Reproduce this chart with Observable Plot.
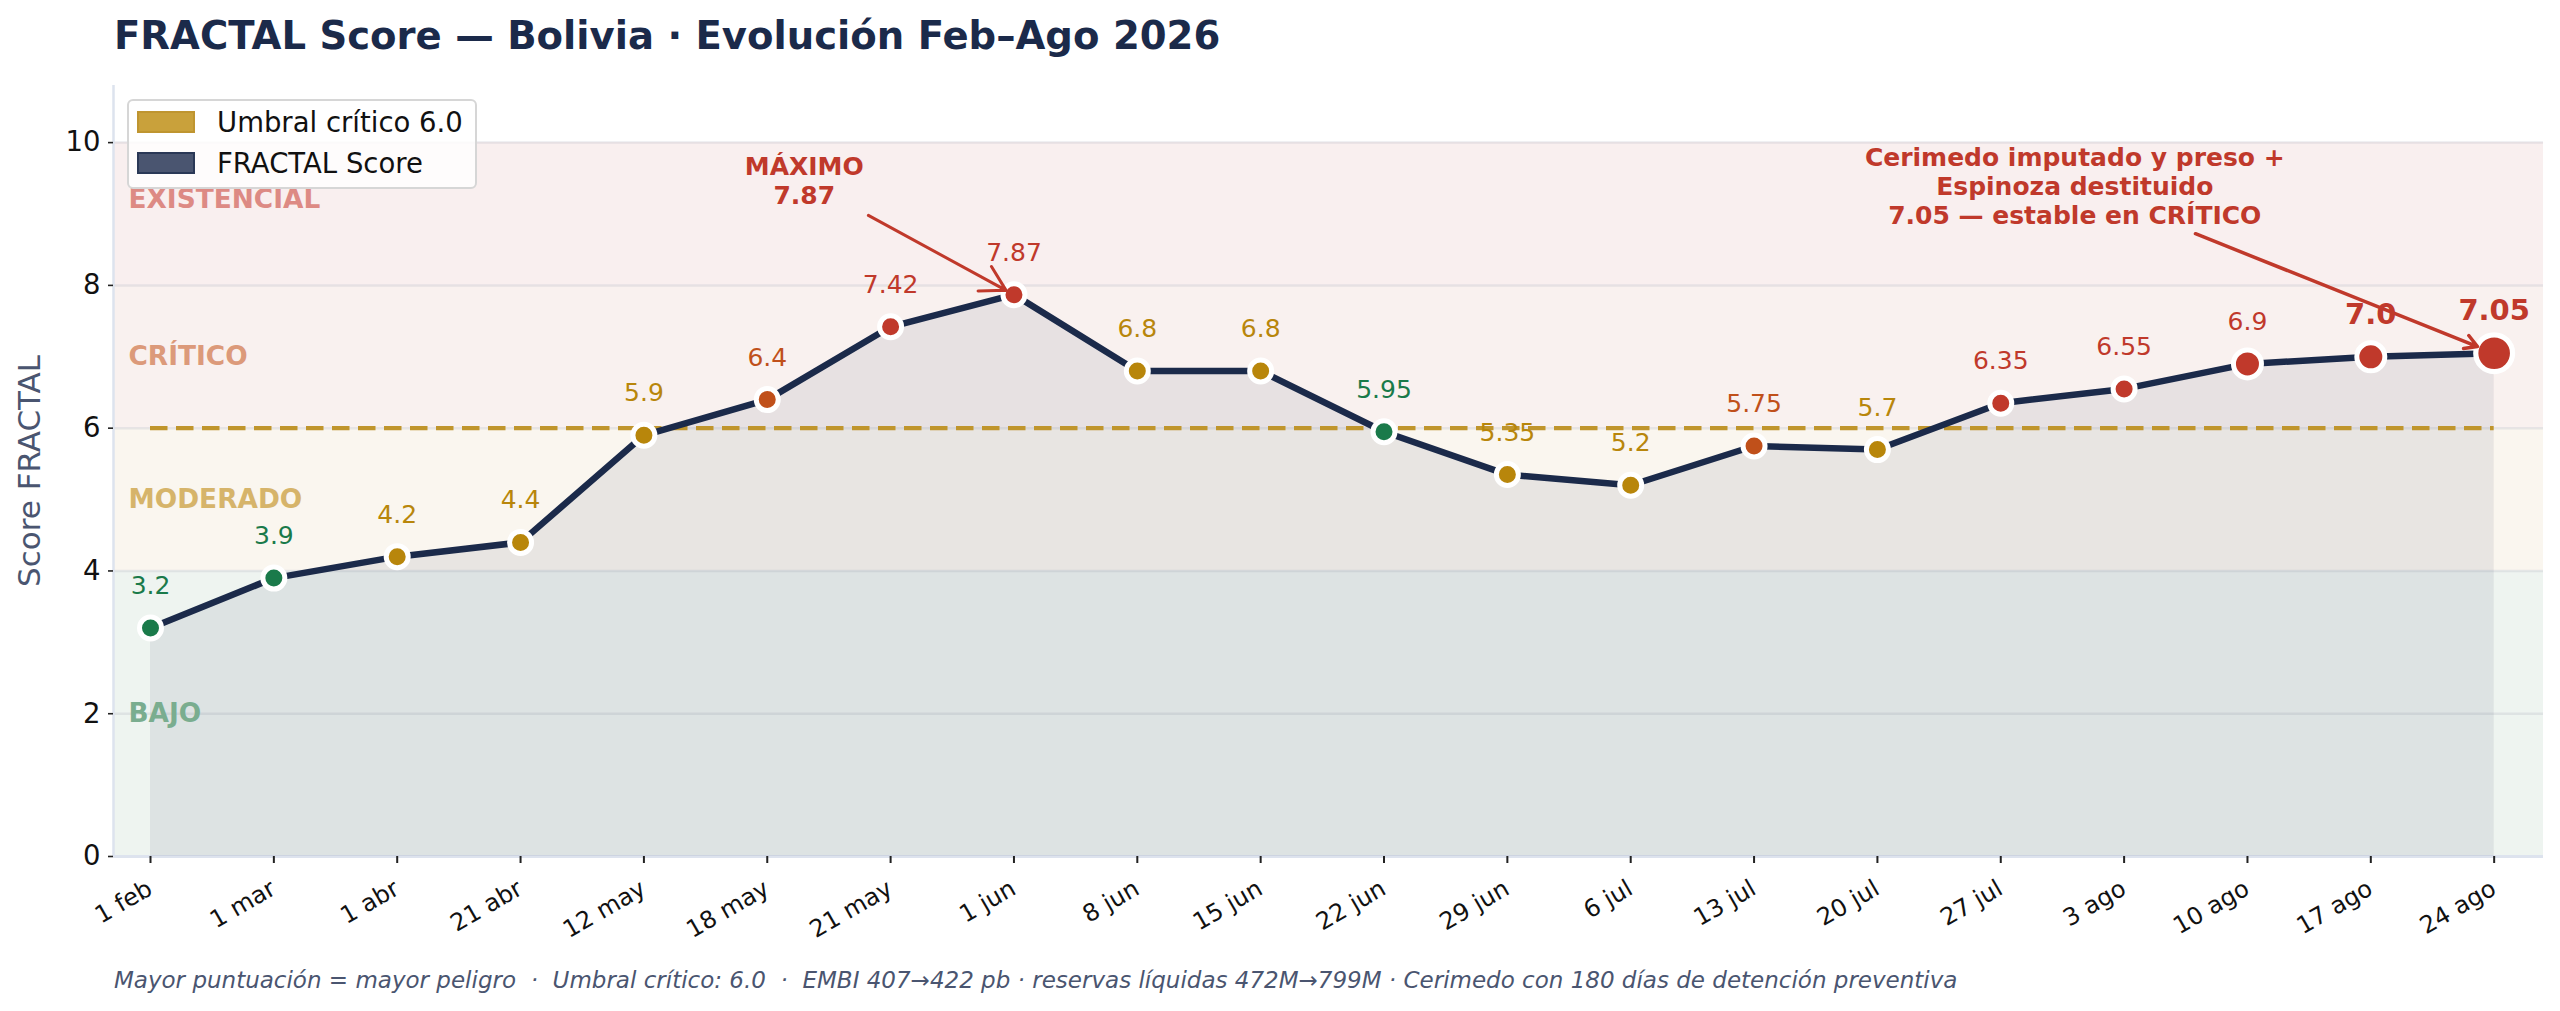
<!DOCTYPE html>
<html><head><meta charset="utf-8">
<script src="https://cdn.jsdelivr.net/npm/d3@7"></script>
<script src="https://cdn.jsdelivr.net/npm/@observablehq/plot@0.6"></script>
<style>
html,body{margin:0;padding:0;background:#fff;}
#wrap{position:relative;width:2560px;height:1011px;font-family:"DejaVu Sans",sans-serif;overflow:hidden;}
#chart{position:absolute;left:0;top:0;}
#title{position:absolute;left:114px;top:16px;font-size:38.6px;line-height:40px;font-weight:bold;color:#1b2a4a;white-space:nowrap;}
#caption{position:absolute;left:114px;top:969px;font-size:23px;line-height:23px;font-style:italic;color:#4a5570;white-space:pre;}
#legend{position:absolute;left:127px;top:99px;width:350px;height:90px;box-sizing:border-box;border:2px solid #d6d6d6;border-radius:6px;background:rgba(255,255,255,0.82);}
.sw{position:absolute;left:8px;width:58px;height:22px;box-sizing:border-box;border:2px solid;}
.lt{position:absolute;left:88px;font-size:27.5px;line-height:27.5px;color:#111;white-space:nowrap;}
</style></head><body>
<div id="wrap">
  <div id="chart"></div>
  <div id="title">FRACTAL Score — Bolivia · Evolución Feb–Ago 2026</div>
  <div id="legend">
    <div class="sw" style="top:10px;background:#c9a13b;border-color:#bf9530;"></div>
    <div class="lt" style="top:8px;">Umbral crítico 6.0</div>
    <div class="sw" style="top:51px;background:#4a5570;border-color:#2a3856;"></div>
    <div class="lt" style="top:49px;">FRACTAL Score</div>
  </div>
  <div id="caption">Mayor puntuación = mayor peligro  ·  Umbral crítico: 6.0  ·  EMBI 407→422 pb · reservas líquidas 472M→799M · Cerimedo con 180 días de detención preventiva</div>
</div>
<script>
// ---- data ----
const xLabels = ["1 feb","1 mar","1 abr","21 abr","12 may","18 may","21 may","1 jun","8 jun","15 jun","22 jun","29 jun","6 jul","13 jul","20 jul","27 jul","3 ago","10 ago","17 ago","24 ago"];
const scores = [3.2,3.9,4.2,4.4,5.9,6.4,7.42,7.87,6.8,6.8,5.95,5.35,5.2,5.75,5.7,6.35,6.55,6.9,7.0,7.05];
const levels = ["verde","verde","ambar","ambar","ambar","naranja","rojo","rojo","ambar","ambar","verde","ambar","ambar","naranja","ambar","rojo","rojo","rojo","rojo","rojo"];
const emphasis = [0,0,0,0,0,0,0,0,0,0,0,0,0,0,0,0,0,1,2,3];
const zoneNames = ["BAJO","MODERADO","CRÍTICO","EXISTENCIAL"];
const zoneLow = [0,4,6,8];
const zoneHigh = [4,6,8,10];
const zoneLabelY = [2,5,7,9.2];
const yTicks = [0,2,4,6,8,10];
const threshold = 6.0;

// ---- styling ----
const levelColor = {verde:"#1a7a4a", ambar:"#b8860b", naranja:"#c0501a", rojo:"#c0392b"};
const zoneFill = ["#eef4f0","#faf6ef","#f9f1ef","#f9efef"];
const zoneText = ["#7aad8f","#d6b46a","#dc9a7a","#dd8a84"];
const navy = "#1b2a4a";
const red = "#c0392b";

const fmt = v => Number.isInteger(v) ? v.toFixed(1) : String(v);
const data = scores.map((v,i) => ({i, v, label: fmt(v), tick: xLabels[i], color: levelColor[levels[i]], e: emphasis[i]}));
const zones = zoneNames.map((n,k) => ({n, lo: zoneLow[k], hi: zoneHigh[k], ly: zoneLabelY[k], fill: zoneFill[k], tc: zoneText[k]}));
const last = scores.length - 1;
const peak = scores.indexOf(d3.max(scores));
const ann1 = [{x: 5.3, y: 9.47, text: "MÁXIMO\n" + fmt(scores[peak]), tx: peak, ty: scores[peak]}];
const ann2 = [{x: 15.6, y: 9.40, text: "Cerimedo imputado y preso +\nEspinoza destituido\n" + fmt(scores[last]) + " — estable en CRÍTICO", tx: last, ty: scores[last]}];

const chart = Plot.plot({
  width: 2560, height: 1011,
  marginLeft: 113, marginRight: 17, marginTop: 85, marginBottom: 155,
  style: {fontFamily: "DejaVu Sans", background: "transparent", overflow: "visible"},
  x: {type: "linear", domain: [-0.3, 19.4]},
  y: {domain: [0, 10.8]},
  color: {type: "identity"},
  marks: [
    Plot.rect(zones, {y1: "lo", y2: "hi", fill: "fill"}),
    Plot.ruleY(yTicks, {stroke: "#b8bcc6", strokeOpacity: 0.3, strokeWidth: 2.5}),
    Plot.ruleX([-0.3], {stroke: "#dde3ee", strokeWidth: 2.5}),
    Plot.ruleY([0], {stroke: "#dde3ee", strokeWidth: 3}),
    Plot.areaY(data, {x: "i", y: "v", fill: navy, fillOpacity: 0.08}),
    Plot.ruleY([threshold], {x1: 0, x2: last, stroke: "#c0952c", strokeWidth: 4.3, strokeDasharray: "17.5,8.5"}),
    Plot.line(data, {x: "i", y: "v", stroke: navy, strokeWidth: 6.5, strokeLinejoin: "round"}),
    Plot.dot(data.filter(d => d.e === 0), {x: "i", y: "v", r: 11, fill: "color", stroke: "white", strokeWidth: 5}),
    Plot.dot(data.filter(d => d.e === 1 || d.e === 2), {x: "i", y: "v", r: 14, fill: "color", stroke: "white", strokeWidth: 5}),
    Plot.dot(data.filter(d => d.e === 3), {x: "i", y: "v", r: 18.4, fill: "color", stroke: "white", strokeWidth: 5.2}),
    Plot.text(data.filter(d => d.e < 2), {x: "i", y: "v", text: "label", fill: "color", fontSize: 25, lineAnchor: "bottom", dy: -34}),
    Plot.text(data.filter(d => d.e >= 2), {x: "i", y: "v", text: "label", fill: "color", fontSize: 29, fontWeight: "bold", lineAnchor: "bottom", dy: -33}),
    Plot.arrow(ann1, {x1: "x", y1: "y", x2: "tx", y2: "ty", insetStart: 73, insetEnd: 9, stroke: red, strokeWidth: 3, headLength: 14, bend: 0}),
    Plot.arrow(ann2, {x1: "x", y1: "y", x2: "tx", y2: "ty", insetStart: 130, insetEnd: 18, stroke: red, strokeWidth: 3.5, headLength: 6, bend: 0}),
    Plot.text(ann1, {x: "x", y: "y", text: "text", fill: red, fontSize: 25, fontWeight: "bold", lineAnchor: "middle", lineHeight: 1.16}),
    Plot.text(ann2, {x: "x", y: "y", text: "text", fill: red, fontSize: 25, fontWeight: "bold", lineAnchor: "middle", lineHeight: 1.16}),
    Plot.text(zones, {y: "ly", frameAnchor: "left", dx: 15, textAnchor: "start", lineAnchor: "middle", text: "n", fill: "tc", fontSize: 26.4, fontWeight: "bold"}),
    Plot.axisY({ticks: yTicks, tickSize: 5, tickPadding: 8, fontSize: 27.5, stroke: "#222", strokeWidth: 1.6, label: null, color: "#111"}),
    Plot.axisX({ticks: d3.range(xLabels.length), tickFormat: () => "", tickSize: 7, stroke: "#222", strokeWidth: 2, label: null}),
    Plot.text(data, {x: "i", text: "tick", frameAnchor: "bottom", dx: -5, dy: 22, rotate: -30, textAnchor: "end", lineAnchor: "top", fontSize: 24, fill: "#111"}),
    Plot.text(["Score FRACTAL"], {frameAnchor: "left", dx: -83, rotate: -90, textAnchor: "middle", lineAnchor: "middle", fill: "#4a5570", fontSize: 31, text: d => d})
  ]
});
document.getElementById("chart").appendChild(chart);
</script>
</body></html>
